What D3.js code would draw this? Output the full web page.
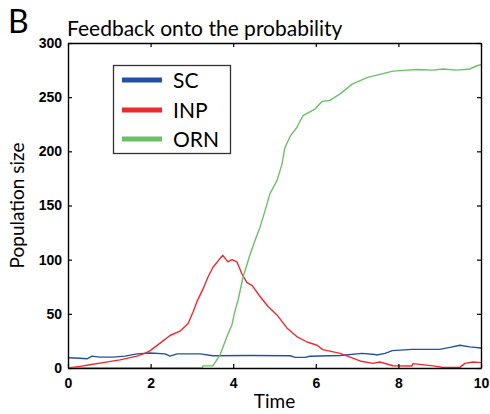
<!DOCTYPE html>
<html>
<head>
<meta charset="utf-8">
<script src="https://cdn.jsdelivr.net/npm/d3@7"></script>
<style>
  html, body { margin: 0; padding: 0; background: #fff; }
  svg { display: block; }
</style>
</head>
<body>
<svg id="chart" width="490" height="414"></svg>
<script>
// Stem cells, intermediate progenitors and olfactory receptor neurons over time
const scTime = [0, 0.29, 0.46, 0.58, 0.77, 1.09, 1.38, 1.67, 1.99, 2.35, 2.47, 2.64, 3.2, 3.51, 4.4, 5.38, 5.5, 5.74, 5.86, 6.59, 7.12, 7.43, 7.47, 7.68, 7.85, 8.33, 9.0, 9.25, 9.49, 9.73, 10];
const scValues = [9.5, 9, 8.5, 11, 10, 10, 11, 13, 13.8, 13, 11, 13, 13, 11.3, 11.5, 11.3, 9.8, 9.8, 10.8, 11.5, 13.5, 12.5, 12, 13.5, 16, 17.2, 17.2, 19, 21, 19.5, 18.5];

const inpTime = [0, 0.29, 0.53, 0.85, 1.26, 1.67, 1.86, 1.99, 2.23, 2.47, 2.71, 2.91, 3.03, 3.12, 3.27, 3.39, 3.51, 3.68, 3.75, 3.83, 3.87, 3.97, 4.09, 4.21, 4.33, 4.46, 4.65, 4.84, 5.06, 5.3, 5.54, 5.79, 6.03, 6.17, 6.59, 6.83, 7.07, 7.38, 7.55, 7.87, 8.33, 8.35, 8.84, 9.08, 9.49, 9.61, 9.81, 10];
const inpValues = [0, 1.5, 3, 5, 7.5, 11, 13.5, 16, 23, 30, 34, 41, 52, 61, 73, 84, 93, 101, 104, 100, 98, 100, 98, 87, 79, 76, 66, 57, 49, 37, 29, 24, 21, 17, 13.5, 10, 6.5, 4.3, 5.5, 2.1, 1.8, 4, 2, 0.6, 0.6, 4.3, 5.5, 5];

const ornTime = [0, 3.24, 3.27, 3.51, 3.56, 3.68, 3.85, 3.97, 4.04, 4.12, 4.24, 4.41, 4.53, 4.65, 4.77, 4.89, 5.06, 5.18, 5.25, 5.38, 5.54, 5.69, 5.98, 6.15, 6.34, 6.59, 6.88, 7.24, 7.55, 7.87, 8.21, 8.45, 8.84, 9.08, 9.42, 9.73, 9.9, 10];
const ornValues = [0, 0, 2, 2, 5, 12, 29, 40, 52, 63, 84, 105, 118, 130, 145, 161, 173, 188, 203, 214, 222, 233, 239, 246, 247, 253, 262, 268, 271, 274, 275, 275.5, 275, 276, 275, 276, 279, 280];

const seriesNames = ["SC", "INP", "ORN"];
const seriesColors = ["#2150a6", "#ec2a2d", "#6cc064"];

const xTicks = [0, 2, 4, 6, 8, 10];
const yTicks = [0, 50, 100, 150, 200, 250, 300];

const svg = d3.select("#chart");
const plotLeft = 68, plotRight = 481, plotTop = 43, plotBottom = 368;

const x = d3.scaleLinear().domain([0, 10]).range([plotLeft, plotRight]);
const y = d3.scaleLinear().domain([0, 300]).range([plotBottom, plotTop]);

const series = [
  { name: seriesNames[0], color: seriesColors[0], t: scTime, v: scValues },
  { name: seriesNames[1], color: seriesColors[1], t: inpTime, v: inpValues },
  { name: seriesNames[2], color: seriesColors[2], t: ornTime, v: ornValues }
];

const line = d3.line().x(d => x(d[0])).y(d => y(d[1]));

// Curves, clipped to the plotting frame
svg.append("clipPath").attr("id", "frame")
  .append("rect").attr("x", plotLeft).attr("y", plotTop)
  .attr("width", plotRight - plotLeft).attr("height", plotBottom - plotTop);

const curves = svg.append("g").attr("clip-path", "url(#frame)");
series.forEach(s => {
  curves.append("path")
    .datum(d3.zip(s.t, s.v))
    .attr("d", line)
    .attr("fill", "none")
    .attr("stroke", s.color)
    .attr("stroke-width", 1.4)
    .attr("stroke-linejoin", "round");
});

// Frame with inward ticks on all four sides
const tickFont = "Liberation Sans, Arial, sans-serif";
const bottomAxis = d3.axisBottom(x).tickValues(xTicks).tickSizeInner(-4).tickSizeOuter(0).tickPadding(10);
const topAxis = d3.axisTop(x).tickValues(xTicks).tickSizeInner(-4).tickSizeOuter(0).tickFormat("");
const leftAxis = d3.axisLeft(y).tickValues(yTicks).tickSizeInner(-4).tickSizeOuter(0).tickPadding(6);
const rightAxis = d3.axisRight(y).tickValues(yTicks).tickSizeInner(-4).tickSizeOuter(0).tickFormat("");

function styleAxis(g) {
  g.select(".domain").attr("stroke", "#000").attr("stroke-width", 1.4);
  g.selectAll(".tick line").attr("stroke", "#000").attr("stroke-width", 1.2);
  g.selectAll(".tick text")
    .attr("fill", "#000")
    .style("font-family", tickFont)
    .style("font-weight", "bold")
    .style("font-size", "14px");
}

svg.append("g").attr("transform", `translate(0,${plotBottom})`).call(bottomAxis).call(styleAxis);
svg.append("g").attr("transform", `translate(0,${plotTop})`).call(topAxis).call(styleAxis);
svg.append("g").attr("transform", `translate(${plotLeft},0)`).call(leftAxis).call(styleAxis);
svg.append("g").attr("transform", `translate(${plotRight},0)`).call(rightAxis).call(styleAxis);

// Titles and axis labels
const labelFont = "Lato, Open Sans, sans-serif";
svg.append("text")
  .attr("x", 8).attr("y", 33)
  .style("font-family", labelFont).style("font-size", "32px")
  .text("B");

svg.append("text")
  .attr("x", 67).attr("y", 36)
  .style("font-family", labelFont).style("font-size", "21px")
  .text("Feedback onto the probability");

svg.append("text")
  .attr("x", (plotLeft + plotRight) / 2).attr("y", 408)
  .attr("text-anchor", "middle")
  .style("font-family", labelFont).style("font-size", "19px")
  .text("Time");

svg.append("text")
  .attr("transform", `translate(24,${(plotTop + plotBottom) / 2}) rotate(-90)`)
  .attr("text-anchor", "middle")
  .style("font-family", labelFont).style("font-size", "19px")
  .text("Population size");

// Legend
const legend = svg.append("g");
legend.append("rect")
  .attr("x", 113.5).attr("y", 65.5).attr("width", 117).attr("height", 88)
  .attr("fill", "#fff").attr("stroke", "#333").attr("stroke-width", 1.3);

const legendRows = [80, 110, 139];
series.forEach((s, i) => {
  legend.append("line")
    .attr("x1", 122).attr("x2", 162)
    .attr("y1", legendRows[i]).attr("y2", legendRows[i])
    .attr("stroke", s.color).attr("stroke-width", 5);
  legend.append("text")
    .attr("x", 173).attr("y", legendRows[i] + 8)
    .style("font-family", labelFont).style("font-size", "21px")
    .text(s.name);
});
</script>
</body>
</html>
